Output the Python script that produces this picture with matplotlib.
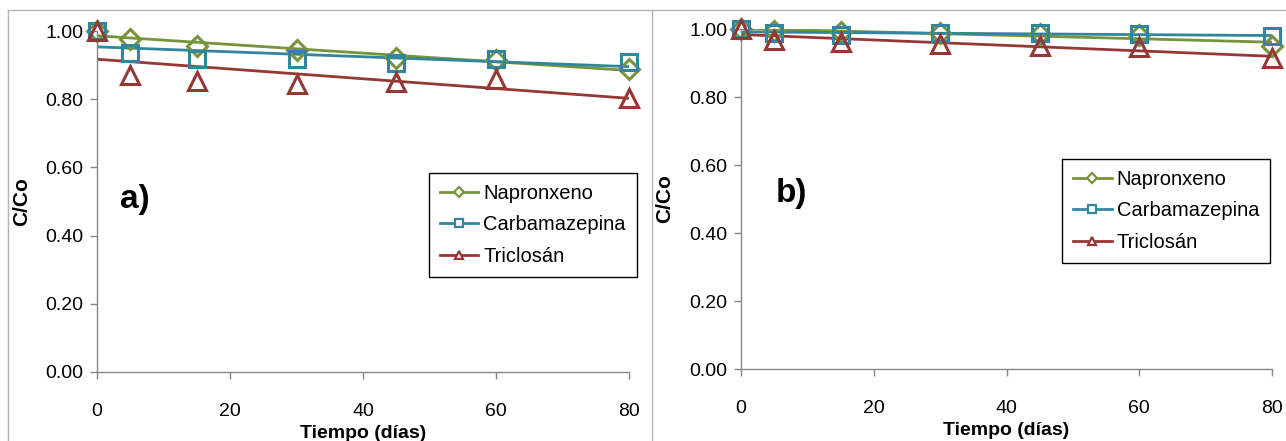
import matplotlib
matplotlib.use("Agg")
import matplotlib.pyplot as plt
from matplotlib.lines import Line2D
import numpy as np

plt.rcParams['font.family'] = ['Liberation Sans', 'DejaVu Sans']

# ---------------- data ----------------
dias = [0, 5, 15, 30, 45, 60, 80]
series_names = ["Napronxeno", "Carbamazepina", "Triclosán"]

# panel a)
a_naproxeno = [1.00, 0.978, 0.957, 0.944, 0.921, 0.915, 0.888]
a_carbamazepina = [1.00, 0.935, 0.918, 0.918, 0.907, 0.918, 0.908]
a_triclosan = [1.00, 0.871, 0.854, 0.845, 0.851, 0.859, 0.804]

# panel b)
b_naproxeno = [1.00, 0.995, 0.992, 0.989, 0.985, 0.981, 0.950]
b_carbamazepina = [1.00, 0.987, 0.982, 0.987, 0.988, 0.985, 0.980]
b_triclosan = [1.00, 0.968, 0.963, 0.957, 0.950, 0.946, 0.914]

x_ticks = [0, 20, 40, 60, 80]
y_ticks = [0.0, 0.2, 0.4, 0.6, 0.8, 1.0]
panel_labels = ["a)", "b)"]
x_label = "Tiempo (días)"
y_label = "C/Co"

colors = ["#77933C", "#31859C", "#953735"]
markers = ["D", "s", "^"]
msizes = [10, 12, 13]

W, H = 1286, 441
fig = plt.figure(figsize=(W / 100, H / 100), dpi=100)

# panel frames (light grey borders)
frame_col = "#b4b4b4"
fig.add_artist(Line2D([8 / W, 8 / W], [0, 1 - 10 / H], transform=fig.transFigure, color=frame_col, lw=1))
fig.add_artist(Line2D([652 / W, 652 / W], [0, 1 - 10 / H], transform=fig.transFigure, color=frame_col, lw=1))
fig.add_artist(Line2D([8 / W, 1], [1 - 10 / H, 1 - 10 / H], transform=fig.transFigure, color=frame_col, lw=1))

axes_px = [(97, 629, 31, 372), (741, 1272, 29, 369)]
data_sets = [
    [a_naproxeno, a_carbamazepina, a_triclosan],
    [b_naproxeno, b_carbamazepina, b_triclosan],
]
label_pos = [(3.4, 0.505), (5.3, 0.515)]
legend_anchor = [(0.624, 0.585), (0.605, 0.618)]
ylabel_x = [-0.124, -0.126]

x = np.array(dias, dtype=float)
for i, (l, r, t, b) in enumerate(axes_px):
    ax = fig.add_axes([l / W, 1 - b / H, (r - l) / W, (b - t) / H])
    for j, vals in enumerate(data_sets[i]):
        y = np.array(vals)
        k, c0 = np.polyfit(x, y, 1)
        xx = np.array([0, 80])
        ax.plot(xx, k * xx + c0, color=colors[j], lw=2.0, zorder=2, solid_capstyle='butt')
        ax.plot(x, y, linestyle='none', marker=markers[j], markersize=msizes[j],
                markerfacecolor='none', markeredgecolor=colors[j], markeredgewidth=2.2,
                zorder=3 + j, clip_on=False)
    ax.set_xlim(0, 80)
    ax.set_ylim(0, 1.0)
    ax.set_xticks(x_ticks)
    ax.set_yticks(y_ticks)
    ax.set_yticklabels([f"{v:.2f}" for v in y_ticks])
    for s in ["top", "right"]:
        ax.spines[s].set_visible(False)
    for s in ["left", "bottom"]:
        ax.spines[s].set_color("#868686")
        ax.spines[s].set_linewidth(1.0)
    ax.tick_params(axis='y', direction='out', length=5, width=1, color="#868686",
                   labelsize=14, pad=5)
    ax.tick_params(axis='x', direction='out', length=5, width=1, color="#868686",
                   labelsize=14, pad=17)
    ax.set_xlabel(x_label, fontsize=14, fontweight='bold', labelpad=4)
    ax.set_ylabel(y_label, fontsize=15, fontweight='bold')
    ax.yaxis.set_label_coords(ylabel_x[i], 0.5)
    ax.text(label_pos[i][0], label_pos[i][1], panel_labels[i], fontsize=24,
            fontweight='bold', ha='left', va='center')
    handles = [Line2D([0], [0], color=colors[j], lw=2.0, marker=markers[j],
                      markersize=6 if j else 5, markerfacecolor='white',
                      markeredgecolor=colors[j], markeredgewidth=1.6)
               for j in range(3)]
    leg = ax.legend(handles, series_names, loc='upper left',
                    bbox_to_anchor=legend_anchor[i], borderaxespad=0,
                    fancybox=False, edgecolor='black', framealpha=1,
                    fontsize=14.5, handlelength=1.9, handletextpad=0.25,
                    labelspacing=0.62, borderpad=0.55)
    leg.get_frame().set_linewidth(1.0)

fig.savefig("out.png", dpi=100)
